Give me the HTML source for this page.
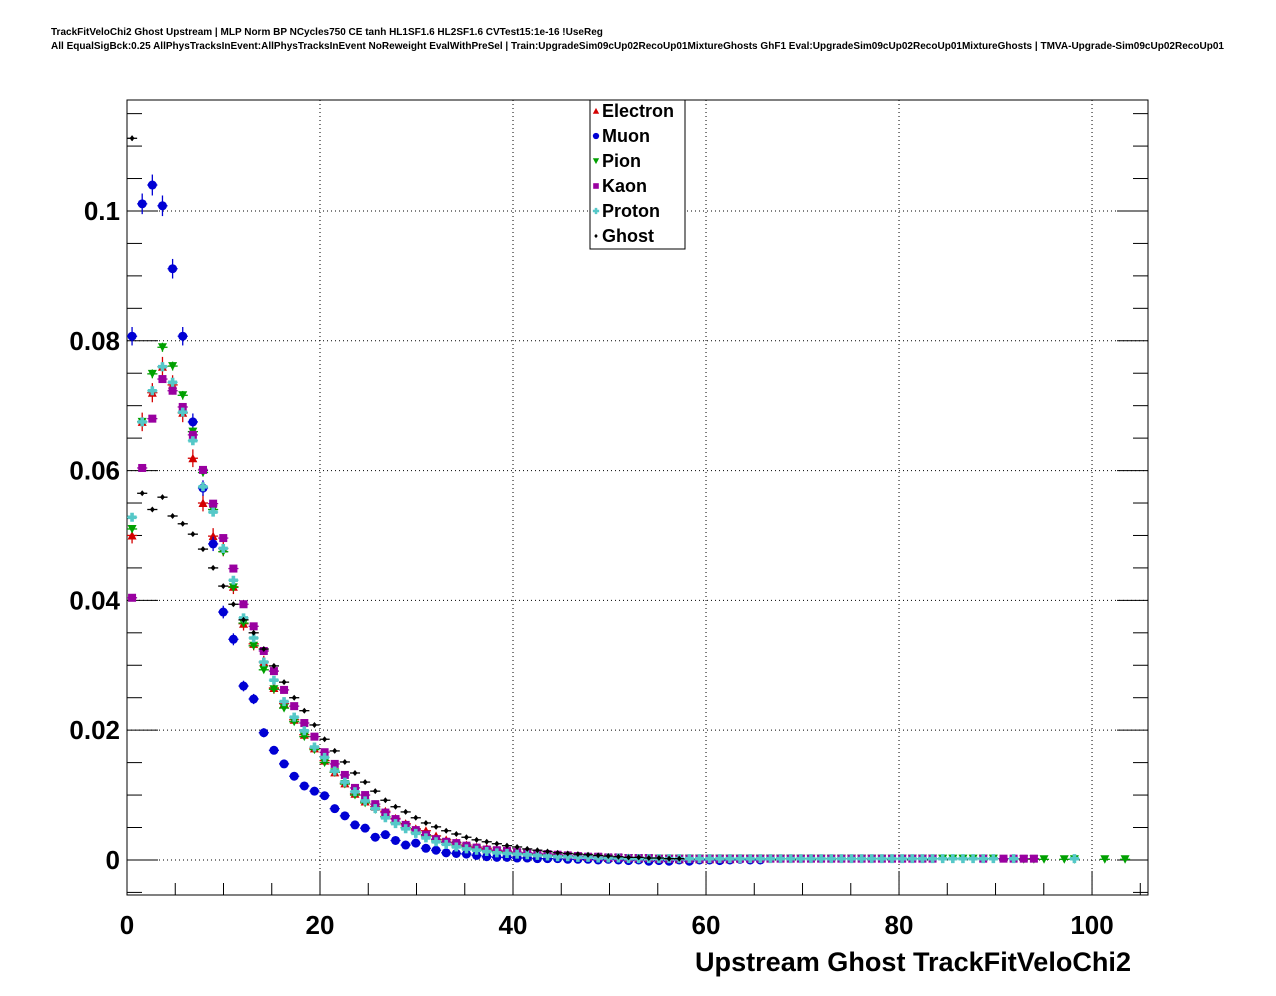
<!DOCTYPE html>
<html><head><meta charset="utf-8"><style>
html,body{margin:0;padding:0;background:#fff;}
svg{display:block;font-family:"Liberation Sans",Arial,sans-serif;}
</style></head><body>
<svg id="chart" width="1276" height="996" viewBox="0 0 1276 996" xmlns="http://www.w3.org/2000/svg">
<rect width="1276" height="996" fill="#fff"/>
<text x="51" y="35" font-size="10" font-weight="bold">TrackFitVeloChi2 Ghost Upstream | MLP Norm BP NCycles750 CE tanh HL1SF1.6 HL2SF1.6 CVTest15:1e-16 !UseReg</text>
<text x="51" y="49" font-size="10" font-weight="bold" textLength="1173" lengthAdjust="spacingAndGlyphs">All EqualSigBck:0.25 AllPhysTracksInEvent:AllPhysTracksInEvent NoReweight EvalWithPreSel | Train:UpgradeSim09cUp02RecoUp01MixtureGhosts GhF1 Eval:UpgradeSim09cUp02RecoUp01MixtureGhosts | TMVA-Upgrade-Sim09cUp02RecoUp01</text>
<g id="grid"></g>
<g id="axes"></g>
<g id="marks"></g>
<g id="legend"></g>
<text x="1131" y="971" font-size="27" font-weight="bold" text-anchor="end" textLength="436" lengthAdjust="spacingAndGlyphs">Upstream Ghost TrackFitVeloChi2</text>
</svg>
<script>
const xTicks=[0,20,40,60,80,100];
const yTicks=[0,0.02,0.04,0.06,0.08,0.1];
const yTickLabels=["0","0.02","0.04","0.06","0.08","0.1"];
const seriesNames=["Electron","Muon","Pion","Kaon","Proton","Ghost"];
const binWidth=1.05;
const electron=[0.050,0.0675,0.072,0.076,0.0732,0.0689,0.0619,0.055,0.0499,0.048,0.0421,0.0364,0.0333,0.0305,0.0265,0.0241,0.0216,0.0193,0.0172,0.0153,0.0135,0.0118,0.0102,0.009,0.0082,0.0075,0.0064,0.0056,0.0048,0.0045,0.0037,0.0031,0.0027,0.0023,0.002,0.0018,0.0015,0.0013,0.0012,0.001,0.0009,0.0008,0.0007,0.0006,0.0005,0.0005,0.0004,0.0003,0.0003,0.0003,0.0002,0.0002,0.0002,0.0002,0.0001,0.0001,0.0001,0.0001,0.0001,0.0001];
const muon=[0.0807,0.1011,0.104,0.1008,0.0911,0.0807,0.0675,0.0573,0.0487,0.0382,0.034,0.0268,0.0248,0.0196,0.0169,0.0148,0.0129,0.0114,0.0106,0.0099,0.0079,0.0068,0.0054,0.0049,0.0035,0.0039,0.003,0.0023,0.0026,0.0018,0.0015,0.0011,0.001,0.0009,0.0007,0.0005,0.0004,0.0004,0.0003,0.0003,0.0002,0.0002,0.0002,0.0001,0.0001,0.0001,0.0,0.0001,0.0,-0.0001,0.0,-0.0002,-0.0001,-0.0002,0.0,-0.0002,0.0,0.0,-0.0001,0.0,0.0001,0.0,0.0];
const pion=[0.051,0.0675,0.0749,0.079,0.0761,0.0716,0.066,0.0597,0.054,0.0475,0.042,0.0365,0.033,0.0293,0.0263,0.0234,0.0213,0.019,0.017,0.015,0.0135,0.0117,0.01,0.0088,0.0078,0.0067,0.0058,0.005,0.0043,0.0037,0.0031,0.0027,0.0023,0.002,0.0017,0.0015,0.0013,0.0011,0.001,0.0009,0.0008,0.0007,0.0006,0.0005,0.0005,0.0004,0.0004,0.0003,0.0003,0.0003,0.0002,0.0002,0.0002,0.0002,0.0002,0.0002,0.0002,0.0002,0.0002,0.0002,0.0002,0.0002,0.0002,0.0002,0.0002,0.0002,0.0002,0.0002,0.0002,0.0002,0.0002,0.0002,0.0002,0.0002,0.0002,0.0002,0.0002,0.0002,0.0002,0.0002,0.0002,0.0002,0.0002,0.0002,0.0002,0.0002,null,null,0.0001,0.0001,0.0001,null,0.0001,0.0001,null,null,0.0001,null,0.0001];
const kaon=[0.0404,0.0604,0.068,0.0741,0.0723,0.0698,0.0655,0.0601,0.0549,0.0496,0.0449,0.0394,0.036,0.0322,0.0291,0.0262,0.0237,0.0211,0.019,0.0166,0.0148,0.0131,0.0111,0.01,0.0086,0.0073,0.0063,0.0054,0.0046,0.0039,0.0032,0.0028,0.0026,0.0022,0.0019,0.0016,0.0015,0.0014,0.0012,0.0011,0.001,0.0009,0.0008,0.0007,0.0006,0.0005,0.0005,0.0004,0.0004,0.0003,0.0003,0.0003,0.0002,0.0002,0.0002,0.0002,0.0002,0.0002,0.0002,0.0002,0.0002,0.0002,0.0002,0.0002,0.0002,0.0002,0.0002,0.0002,0.0002,0.0002,0.0002,0.0002,0.0002,0.0002,0.0002,0.0002,0.0002,0.0002,0.0002,0.0002,null,null,null,null,0.0002,null,0.0002,0.0002,0.0002,0.0002];
const proton=[0.0528,0.0675,0.0723,0.076,0.0736,0.069,0.0646,0.0575,0.0536,0.048,0.0431,0.0373,0.0342,0.0305,0.0277,0.0244,0.022,0.0199,0.0174,0.0158,0.0137,0.012,0.0105,0.0091,0.0079,0.0065,0.0056,0.0048,0.0041,0.0034,0.0028,0.0024,0.002,0.0017,0.0015,0.0013,0.0011,0.001,0.0009,0.0008,0.0007,0.0006,0.0005,0.0005,0.0004,0.0004,0.0003,0.0003,0.0003,0.0002,0.0002,0.0002,0.0002,0.0002,0.0002,0.0002,0.0002,0.0002,0.0002,0.0002,0.0002,0.0002,0.0002,0.0002,0.0002,0.0002,0.0002,0.0002,0.0002,0.0002,0.0002,0.0002,0.0002,0.0002,0.0002,0.0002,0.0002,0.0002,0.0002,0.0002,0.0002,0.0002,0.0002,0.0002,0.0002,0.0002,null,0.0002,null,null,null,null,null,0.0002];
const ghost=[0.1112,0.0565,0.054,0.0559,0.053,0.0518,0.0502,0.0479,0.045,0.0422,0.0394,0.037,0.035,0.0325,0.0299,0.0274,0.025,0.023,0.0208,0.0186,0.0168,0.0151,0.0134,0.012,0.0106,0.0092,0.0082,0.0074,0.0065,0.0057,0.0051,0.0045,0.004,0.0035,0.0031,0.0028,0.0025,0.0022,0.002,0.0017,0.0015,0.0013,0.0011,0.001,0.0009,0.0008,0.0007,0.0006,0.0005,0.0004,0.0004,0.0003,0.0003,0.0002,0.0002];

const NS="http://www.w3.org/2000/svg";
const X0=127,X1=1148,Y0=100,Y1=895;
const xMin=0,xMax=105.8,yMin=-0.0054,yMax=0.1171;
function sx(v){return X0+(v-xMin)/(xMax-xMin)*(X1-X0);}
function sy(v){return Y1-(v-yMin)/(yMax-yMin)*(Y1-Y0);}
function mk(tag,attrs,parent){const e=document.createElementNS(NS,tag);for(const k in attrs)e.setAttribute(k,attrs[k]);parent.appendChild(e);return e;}
const grid=document.getElementById('grid'),axes=document.getElementById('axes'),marks=document.getElementById('marks'),legend=document.getElementById('legend');
mk('rect',{x:X0,y:Y0,width:X1-X0,height:Y1-Y0,fill:'none',stroke:'#000','stroke-width':1},axes);
xTicks.forEach(t=>{const x=sx(t);
 if(t>0){const g=mk('line',{x1:x,x2:x,y1:Y0,y2:Y1,stroke:'#000','stroke-dasharray':'1,3','stroke-width':1},grid);
 
 }
 mk('line',{x1:x,x2:x,y1:Y1,y2:Y1-24,stroke:'#000'},axes);
 const tx=mk('text',{x:x,y:934,'font-size':26,'font-weight':'bold','text-anchor':'middle'},axes);tx.textContent=String(t);
 
 
});
for(let t=5;t<xMax;t+=5){if(t%20===0)continue;const x=sx(t);mk('line',{x1:x,x2:x,y1:Y1,y2:Y1-12,stroke:'#000'},axes);}
yTicks.forEach((t,i)=>{const y=sy(t);
 const g=mk('line',{x1:X0,x2:X1,y1:y,y2:y,stroke:'#000','stroke-dasharray':'1,3','stroke-width':1},grid);
 
 
 mk('line',{x1:X0,x2:X0+31,y1:y,y2:y,stroke:'#000'},axes);
 mk('line',{x1:X1,x2:X1-31,y1:y,y2:y,stroke:'#000'},axes);
 const tx=mk('text',{x:120,y:y+9,'font-size':26,'font-weight':'bold','text-anchor':'end'},axes);tx.textContent=yTickLabels[i];
 
 
});
for(let k=-1;k*0.005<yMax;k++){if(k%4===0)continue;const y=sy(k*0.005);if(y>Y1||y<Y0)continue;
 mk('line',{x1:X0,x2:X0+15,y1:y,y2:y,stroke:'#000'},axes);mk('line',{x1:X1,x2:X1-15,y1:y,y2:y,stroke:'#000'},axes);}

const colors=['#d40000','#0000d4','#00a000','#9900a0','#55c8c8','#000000'];
const data=[electron,muon,pion,kaon,proton,ghost];
const errK=[0.0055,0.005,0.0025,0.0015,0.0025,0.0012];
const shapes=['tri','circle','tridown','square','cross','diamond'];
function marker(shape,x,y,c,parent,s){
 s=s||1;
 if(shape==='tri')return mk('polygon',{points:`${x-4.5*s},${y+4*s} ${x+4.5*s},${y+4*s} ${x},${y-4.5*s}`,fill:c},parent);
 if(shape==='tridown')return mk('polygon',{points:`${x-4.5*s},${y-4*s} ${x+4.5*s},${y-4*s} ${x},${y+4.5*s}`,fill:c},parent);
 if(shape==='circle')return mk('circle',{cx:x,cy:y,r:4.5*s,fill:c},parent);
 if(shape==='square')return mk('rect',{x:x-4*s,y:y-4*s,width:8*s,height:8*s,fill:c},parent);
 if(shape==='cross')return mk('path',{d:`M${x-1.8*s},${y-4.5*s}h${3.6*s}v${2.7*s}h${2.7*s}v${3.6*s}h${-2.7*s}v${2.7*s}h${-3.6*s}v${-2.7*s}h${-2.7*s}v${-3.6*s}h${2.7*s}z`,fill:c},parent);
 return mk('polygon',{points:`${x},${y-3*s} ${x+2.5*s},${y} ${x},${y+3*s} ${x-2.5*s},${y}`,fill:c},parent);
}
data.forEach((arr,si)=>{
 const g=mk('g',{},marks);
 
 
 arr.forEach((v,i)=>{
  if(v===null)return;
  const xc=(i+0.5)*binWidth,x=sx(xc),y=sy(v);
  const e=errK[si]*Math.sqrt(Math.abs(v));
  mk('line',{x1:sx(xc-binWidth/2),x2:sx(xc+binWidth/2),y1:y,y2:y,stroke:colors[si],'stroke-width':1.3},g);
  mk('line',{x1:x,x2:x,y1:sy(v+e),y2:sy(v-e),stroke:colors[si],'stroke-width':1.3},g);
  const m=marker(shapes[si],x,y,colors[si],g);
  
  
 });
});
mk('rect',{x:590,y:100,width:95,height:149,fill:'#fff',stroke:'#000'},legend);
seriesNames.forEach((n,i)=>{
 const y=111+i*25;
 const eg=mk('g',{},legend);
 
 
 marker(shapes[i],596,y,colors[i],eg,0.7);
 const t=mk('text',{x:602,y:y+6,'font-size':18,'font-weight':'bold'},eg);t.textContent=n;
});
</script>
</body></html>
